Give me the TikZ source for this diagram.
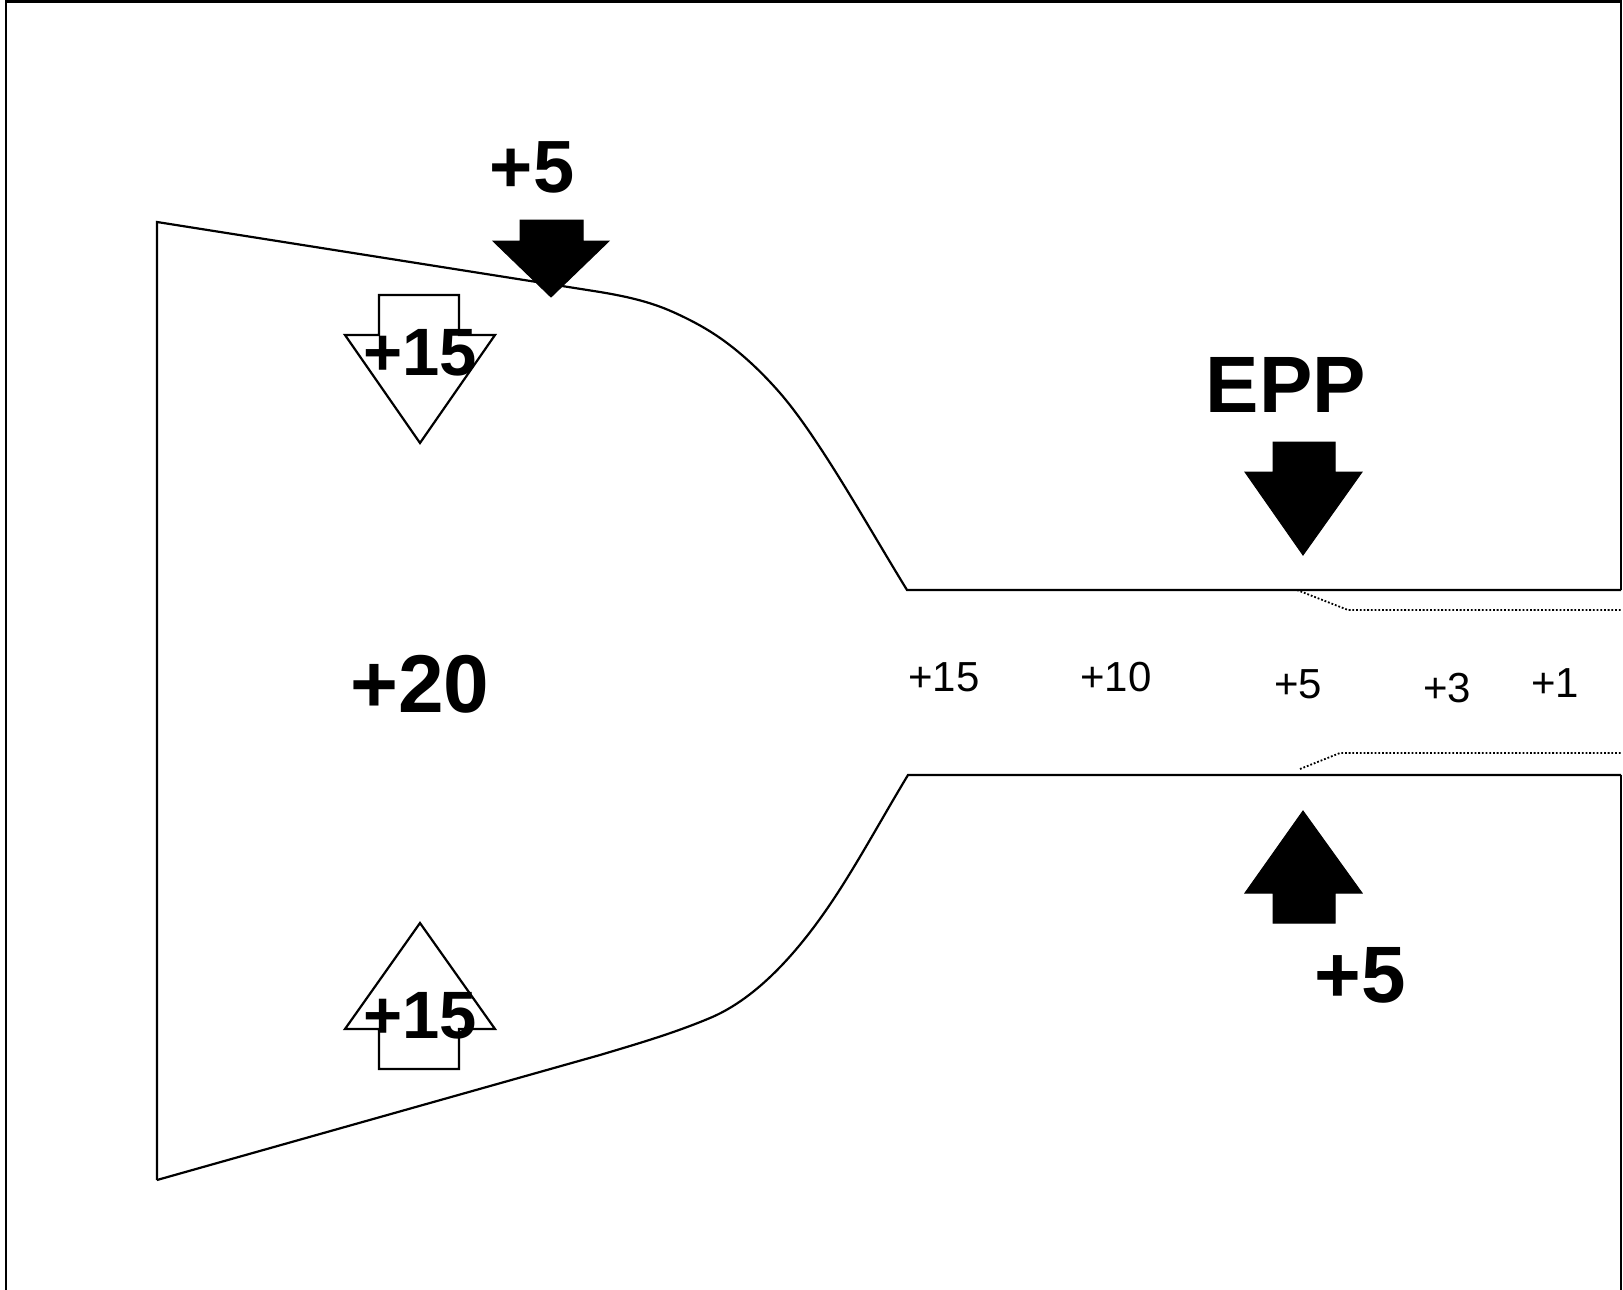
\documentclass[tikz,border=0pt]{standalone}
\usepackage{fontspec}
\setmainfont{Liberation Sans}
\begin{document}
\begin{tikzpicture}[x=0.5pt,y=-0.5pt,
  outline/.style={line width=1.1pt,line join=miter},
  framel/.style={line width=1.3pt},
  dotline/.style={line width=0.9pt,dash pattern=on 0.9pt off 0.95pt},
  solidarrow/.style={fill=black,draw=black,line width=0.5pt,line join=miter},
  hollowarrow/.style={fill=white,draw=black,line width=1.1pt,line join=miter},
  lbl/.style={anchor=base,inner sep=0pt,font=\fontsize{21}{25}\selectfont},
  biglbl/.style={anchor=base,inner sep=0pt,font=\bfseries\fontsize{#1}{#1}\selectfont}]
\useasboundingbox (0,0) rectangle (1623,1290);

% outer frame, open where the channel leaves on the right
\draw[framel] (6,1290) -- (6,1.5) -- (1621,1.5) -- (1621,590);
\draw[framel] (1621,775) -- (1621,1290);

% funnel: upper wall
\draw[outline] (157,1180) -- (157,222) -- (600,292)
  .. controls (624.3,296.1) and (648.7,301.1) .. (673,312)
  .. controls (691,320.1) and (709,329.5) .. (727,343)
  .. controls (744.7,356.3) and (762.3,372.7) .. (780,393)
  .. controls (792.3,407.2) and (804.7,424.5) .. (817,443)
  .. controls (847,488) and (877,541.1) .. (907,590)
  -- (1621,590);
% funnel: lower wall
\draw[outline] (157,1180) -- (600,1055)
  .. controls (636.7,1044) and (673.3,1033.4) .. (710,1018)
  .. controls (751,1000.8) and (792,961.5) .. (833,900)
  .. controls (858,862.5) and (883,816.3) .. (908,775)
  -- (1621,775);

% narrowed passage inside the channel
\draw[dotline] (1297,590) -- (1348,610) -- (1621,610);
\draw[dotline] (1300,769) -- (1340,753) -- (1621,753);

% hollow arrows on the left
\draw[hollowarrow] (379,295) -- (459,295) -- (459,335) -- (495,335) -- (420,443)
  -- (345,335) -- (379,335) -- cycle;
\draw[hollowarrow] (379,1069) -- (459,1069) -- (459,1029) -- (495,1029) -- (420,923)
  -- (345,1029) -- (379,1029) -- cycle;

% solid arrows
\draw[solidarrow] (520,220) -- (583,220) -- (583,241) -- (609,241) -- (551,297)
  -- (493,241) -- (520,241) -- cycle;
\draw[solidarrow] (1273,442) -- (1335,442) -- (1335,472) -- (1362,472) -- (1303,555)
  -- (1245,472) -- (1273,472) -- cycle;
\draw[solidarrow] (1273,923) -- (1335,923) -- (1335,893) -- (1362,893) -- (1303,811)
  -- (1245,893) -- (1273,893) -- cycle;

% labels
\node[biglbl=37] (ptop) at (532,192) {+5};
\node[biglbl=40] (epp) at (1286,412) {EPP};
\node[biglbl=40] (pbot) at (1360,1002) {+5};
\node[biglbl=41] (p20) at (420,712) {+20};
\node[biglbl=33.5] (p15a) at (420,375) {+15};
\node[biglbl=33.5] (p15b) at (420,1038) {+15};

\node[lbl] (c15) at (944,691) {+15};
\node[lbl] (c10) at (1116,691) {+10};
\node[lbl] (c5) at (1298,698) {+5};
\node[lbl] (c3) at (1447,702) {+3};
\node[lbl] (c1) at (1555,697) {+1};
\end{tikzpicture}
\end{document}
